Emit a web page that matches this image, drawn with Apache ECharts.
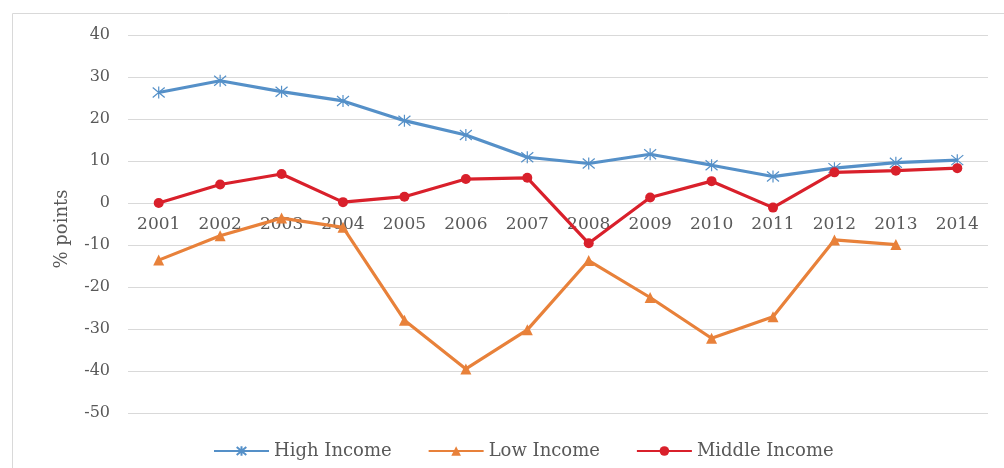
<!DOCTYPE html>
<html>
<head>
<meta charset="utf-8">
<script src="https://cdn.jsdelivr.net/npm/echarts@6/dist/echarts.min.js"></script>
<style>html,body{margin:0;padding:0;background:#fff}#c{width:1004px;height:468px}</style>
</head>
<body>
<div id="c"></div>
<script>
const categories = ['2001','2002','2003','2004','2005','2006','2007','2008','2009','2010','2011','2012','2013','2014'];
const highIncome = [26.3, 29.1, 26.5, 24.3, 19.6, 16.2, 10.9, 9.4, 11.6, 9.0, 6.3, 8.3, 9.6, 10.2];
const lowIncome = [-13.6, -7.8, -3.6, -5.8, -27.9, -39.5, -30.2, -13.7, -22.5, -32.2, -27.1, -8.8, -9.9, null];
const middleIncome = [0.0, 4.4, 6.9, 0.2, 1.5, 5.7, 6.0, -9.6, 1.3, 5.2, -1.1, 7.3, 7.7, 8.3];
const yTicks = {min: -50, max: 40, interval: 10};

const font = '"DejaVu Serif", "Liberation Serif", serif';
const starPath = 'path://M0,0 L10,10 M10,0 L0,10 M5,-1 L5,11';
const chart = echarts.init(document.getElementById('c'));
chart.setOption({
  animation: false,
  graphic: [{type: 'rect', shape: {x: 12.5, y: 13.5, width: 1000, height: 470}, style: {fill: 'none', stroke: '#d9d9d9', lineWidth: 1}, silent: true}],
  grid: {left: 128, right: 16, top: 35, bottom: 55},
  legend: {
    top: 437, left: 208, itemWidth: 55, itemHeight: 12, itemGap: 36,
    textStyle: {fontFamily: font, fontSize: 18, color: '#595959'},
    data: ['High Income', 'Low Income', 'Middle Income']
  },
  xAxis: {
    type: 'category', data: categories, boundaryGap: true,
    offset: -210,
    axisLine: {show: false},
    axisTick: {show: false},
    axisLabel: {fontFamily: font, fontSize: 17, color: '#595959', margin: 13}
  },
  yAxis: {
    type: 'value', min: yTicks.min, max: yTicks.max, interval: yTicks.interval,
    name: '% points', nameLocation: 'middle', nameGap: 57, nameRotate: 90,
    nameTextStyle: {fontFamily: font, fontSize: 18, color: '#595959', padding: [0, 10, 0, 0]},
    axisLine: {show: false}, axisTick: {show: false},
    axisLabel: {fontFamily: font, fontSize: 16, color: '#595959', margin: 18},
    splitLine: {lineStyle: {color: '#d9d9d9', width: 1}}
  },
  series: [
    {name: 'High Income', type: 'line', data: highIncome, symbol: starPath, symbolSize: 12,
     lineStyle: {color: '#5590C8', width: 3.2}, itemStyle: {color: 'rgba(0,0,0,0)', borderColor: '#5590C8', borderWidth: 1.2}, z: 3},
    {name: 'Low Income', type: 'line', data: lowIncome, symbol: 'triangle', symbolSize: 11,
     lineStyle: {color: '#E8813A', width: 3.2}, itemStyle: {color: '#E8813A'}, z: 2},
    {name: 'Middle Income', type: 'line', data: middleIncome, symbol: 'circle', symbolSize: 10,
     lineStyle: {color: '#D9202B', width: 3.2}, itemStyle: {color: '#D9202B'}, z: 4}
  ]
});
</script>
</body>
</html>
